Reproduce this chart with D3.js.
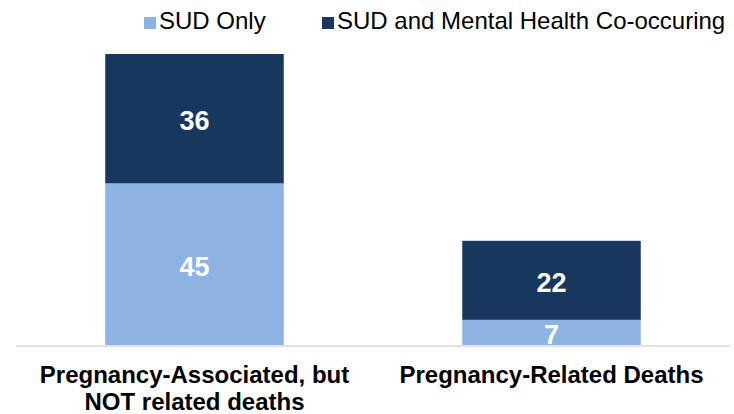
<!DOCTYPE html>
<html>
<head>
<meta charset="utf-8">
<script src="https://cdn.jsdelivr.net/npm/d3@7"></script>
<style>
  body { margin: 0; background: #fff; }
  text { font-family: Arial, "Liberation Sans", sans-serif; }
</style>
</head>
<body>
<svg id="chart"></svg>
<script>
const size = {w: 734, h: 414};
const svg = d3.select('svg#chart')
    .attr('width', size.w)
    .attr('height', size.h);

// data
const categories = ['Pregnancy-Associated, but|NOT related deaths', 'Pregnancy-Related Deaths'];
const series = ['SUD Only', 'SUD and Mental Health Co-occuring'];
const sudOnly = [45, 7];
const sudMental = [36, 22];
const colors = ['#8DB3E2', '#17375E'];

const rows = categories.map((c, i) => ({cat: c, [series[0]]: sudOnly[i], [series[1]]: sudMental[i]}));
const stacked = d3.stack().keys(series)(rows);

const x = d3.scaleBand()
    .domain(categories)
    .range([16, 730])
    .paddingInner(0.5)
    .paddingOuter(0.25);

const y = d3.scaleLinear()
    .domain([0, 81])
    .range([345, 54]);

// bars
const layers = svg.append('g')
    .classed('bars', true)
    .selectAll('g')
    .data(stacked)
    .join('g')
    .attr('fill', (d, i) => colors[i]);

layers.selectAll('rect')
    .data(d => d)
    .join('rect')
    .attr('x', d => x(d.data.cat))
    .attr('y', d => y(d[1]))
    .attr('width', x.bandwidth())
    .attr('height', d => y(d[0]) - y(d[1]));

// value labels
layers.selectAll('text')
    .data(d => d)
    .join('text')
    .attr('x', d => x(d.data.cat) + x.bandwidth() / 2)
    .attr('y', d => (y(d[0]) + y(d[1])) / 2 + 2)
    .attr('dy', '0.35em')
    .attr('text-anchor', 'middle')
    .attr('fill', '#fff')
    .attr('font-weight', 'bold')
    .attr('font-size', 27)
    .text(d => d[1] - d[0]);

// baseline
svg.append('line')
    .attr('x1', 16).attr('x2', 730)
    .attr('y1', 346).attr('y2', 346)
    .attr('stroke', '#D9D9D9')
    .attr('stroke-width', 1.5);

// category labels
const xAxis = svg.append('g')
    .attr('transform', 'translate(0, 346)')
    .call(d3.axisBottom(x).tickSize(0).tickFormat(''));
xAxis.select('.domain').remove();

xAxis.selectAll('.tick text')
    .attr('fill', '#000')
    .attr('font-weight', 'bold')
    .attr('font-size', 24)
    .attr('y', 37)
    .attr('dy', 0)
    .each(function(d) {
        const t = d3.select(this);
        d.split('|').forEach((line, i) => {
            t.append('tspan')
                .attr('x', 0)
                .attr('dy', i === 0 ? 0 : 27)
                .text(line);
        });
    });

// legend
const legendX = [144, 322];
const legend = svg.append('g')
    .classed('legend', true)
    .selectAll('g')
    .data(series)
    .join('g')
    .attr('transform', (d, i) => `translate(${legendX[i]}, 0)`);

legend.append('rect')
    .attr('x', 0).attr('y', 17)
    .attr('width', 12).attr('height', 12)
    .attr('fill', (d, i) => colors[i]);

legend.append('text')
    .attr('x', 15).attr('y', 29)
    .attr('font-size', 24)
    .attr('fill', '#000')
    .text(d => d);
</script>
</body>
</html>
